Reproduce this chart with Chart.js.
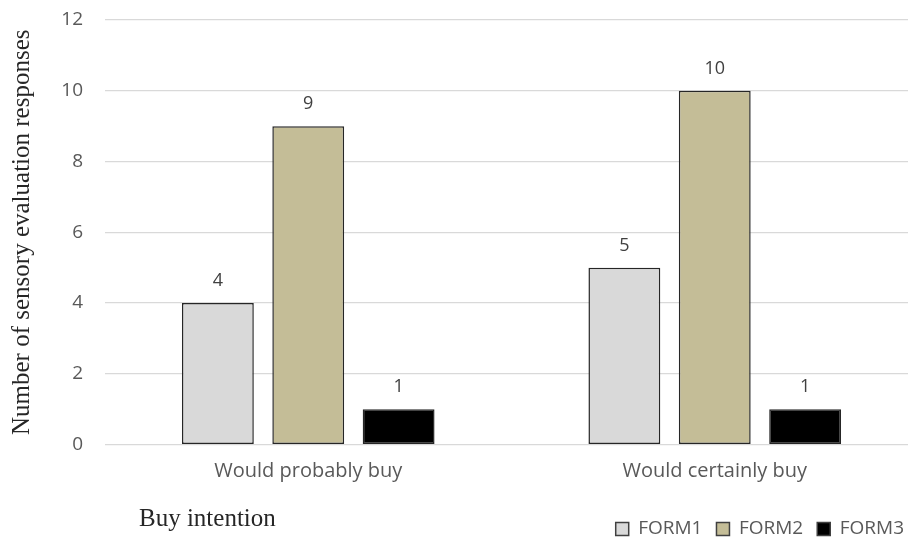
<!DOCTYPE html>
<html>
<head>
<meta charset="utf-8">
<script src="https://cdn.jsdelivr.net/npm/chart.js@4"></script>
<style>
  html, body { margin: 0; padding: 0; background: #fff; overflow: hidden; }
  #wrap { width: 908px; height: 542px; overflow: hidden; }
</style>
</head>
<body>
<div id="wrap"><canvas id="chart" width="920" height="542"></canvas></div>
<script>
// Values.
const categories = ['Would probably buy', 'Would certainly buy'];
const seriesNames = ['FORM1', 'FORM2', 'FORM3'];
const form1 = [4, 5];
const form2 = [9, 10];
const form3 = [1, 1];
const yTicks = [0, 2, 4, 6, 8, 10, 12];

const fills = ['#d9d9d9', '#c4bd97', '#000000'];
const sans = "'Open Sans', 'Liberation Sans', sans-serif";
const serif = "'Liberation Serif', 'DejaVu Serif', serif";

// Excel-style value labels sitting above each bar.
const valueLabels = {
    id: 'valueLabels',
    afterDatasetsDraw(chart) {
        const ctx = chart.ctx;
        ctx.save();
        ctx.font = `18px ${sans}`;
        ctx.fillStyle = '#404040';
        ctx.textAlign = 'center';
        ctx.textBaseline = 'alphabetic';
        chart.data.datasets.forEach((ds, i) => {
            chart.getDatasetMeta(i).data.forEach((bar, j) => {
                ctx.fillText(String(ds.data[j]), bar.x, bar.y - 17);
            });
        });
        ctx.restore();
    },
};

// "Buy intention" sits bottom-left, level with the legend.
const axisCaption = {
    id: 'axisCaption',
    afterDraw(chart) {
        const ctx = chart.ctx;
        ctx.save();
        ctx.font = `25px ${serif}`;
        ctx.fillStyle = '#262626';
        ctx.textAlign = 'left';
        ctx.textBaseline = 'middle';
        ctx.fillText('Buy intention', 139, 519);
        ctx.restore();
    },
};

const seriesData = [form1, form2, form3];

new Chart(document.getElementById('chart'), {
    type: 'bar',
    data: {
        labels: categories,
        datasets: seriesNames.map((name, i) => ({
            label: name,
            data: seriesData[i],
            backgroundColor: fills[i],
            borderColor: '#262626',
            borderWidth: 1.5,
            borderSkipped: false,
            categoryPercentage: 0.667,
            barPercentage: 0.795,
        })),
    },
    options: {
        responsive: false,
        animation: false,
        devicePixelRatio: 1,
        layout: { padding: { top: 20, right: 2, bottom: -6.5, left: 0 } },
        plugins: {
            tooltip: { enabled: false },
            legend: {
                position: 'bottom',
                align: 'end',
                labels: {
                    font: { family: sans, size: 19 },
                    color: '#595959',
                    boxWidth: 13,
                    boxHeight: 13,
                    padding: 14,
                    generateLabels: chart => chart.data.datasets.map((ds, i) => ({
                        text: ds.label,
                        fillStyle: ds.backgroundColor,
                        strokeStyle: '#404040',
                        lineWidth: 1.5,
                        fontColor: '#595959',
                        datasetIndex: i,
                    })),
                },
            },
        },
        scales: {
            x: {
                grid: { display: false, drawTicks: false },
                border: { display: false },
                ticks: { font: { family: sans, size: 20 }, color: '#595959', padding: 15 },
                afterFit: s => { s.height = 61; },
            },
            y: {
                min: 0,
                max: 12,
                afterBuildTicks: s => { s.ticks = yTicks.map(v => ({ value: v })); },
                // invisible tick marks push the labels out without inflating the top padding
                grid: { color: '#d9d9d9', lineWidth: 1.2, drawTicks: true, tickLength: 14, tickColor: 'rgba(0,0,0,0)' },
                border: { display: false },
                ticks: { font: { family: sans, size: 19 }, color: '#595959', padding: 8 },
                title: {
                    display: true,
                    text: 'Number of sensory evaluation responses',
                    font: { family: serif, size: 25 },
                    color: '#262626',
                    padding: { top: 7, bottom: 4 },
                },
                afterFit: s => { s.width = 105; },
            },
        },
    },
    plugins: [valueLabels, axisCaption],
});
</script>
</body>
</html>
